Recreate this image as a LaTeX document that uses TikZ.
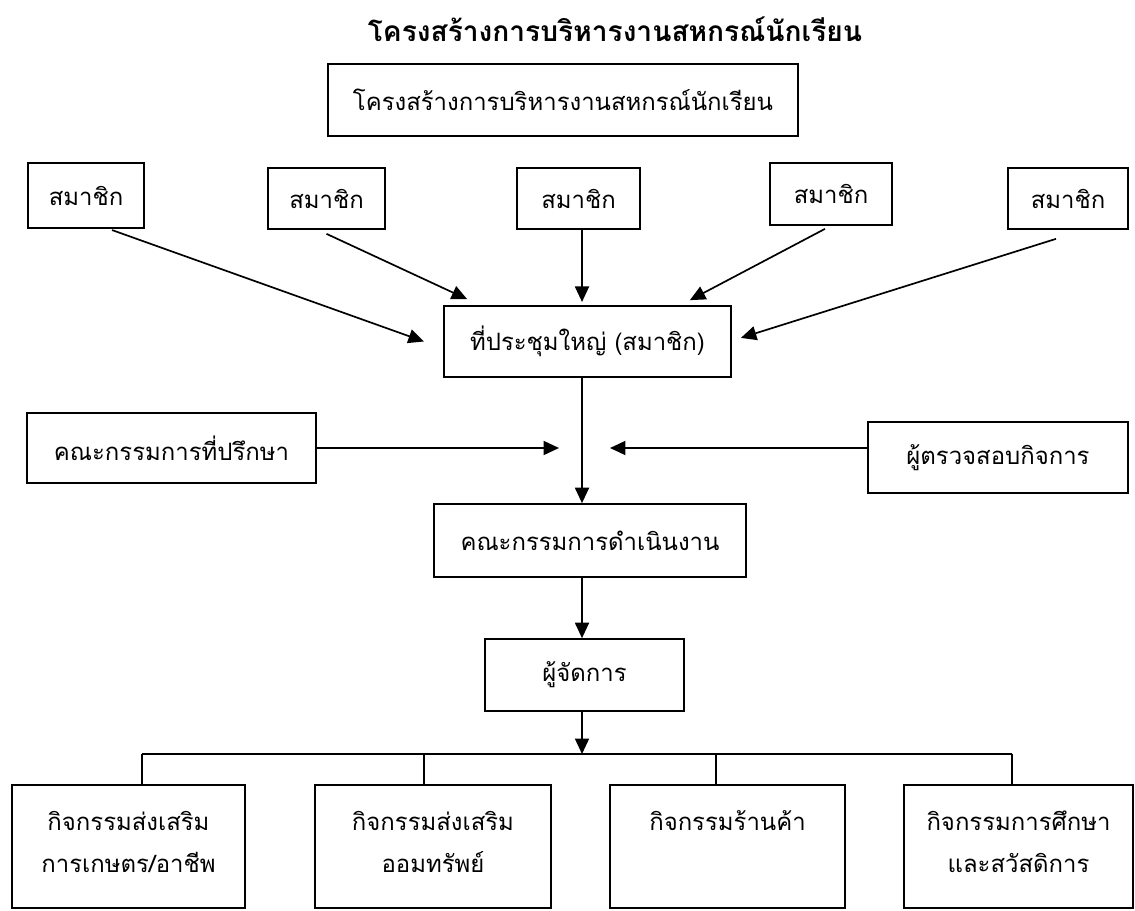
\documentclass[tikz,border=0pt]{standalone}
\usepackage{fontspec}
\newfontfamily\thaifont[Script=Thai]{Loma}
\usetikzlibrary{arrows.meta}

\begin{document}
\begin{tikzpicture}[x=0.025cm,y=-0.025cm,line width=1.2pt,>={Triangle[length=11pt,width=10pt]},
  box/.style={draw,line width=1.2pt,inner sep=2pt,font=\thaifont\fontsize{17pt}{20pt}\selectfont},
  unit/.style={box,align=center,minimum height=3.075cm,text height=60.5pt,text depth=23pt,font=\thaifont\fontsize{17pt}{30pt}\selectfont}]
\useasboundingbox (0,0) rectangle (1135,911);
% title and top box
\node [name=title,font=\thaifont\bfseries\fontsize{20pt}{24pt}\selectfont] at (615,29){โครงสร้างการบริหารงานสหกรณ์นักเรียน};
\node [box,name=top,minimum width=11.75cm,minimum height=1.8cm] at (563,100){โครงสร้างการบริหารงานสหกรณ์นักเรียน};
% members
\node [box,name=m1,minimum width=2.9cm,minimum height=1.625cm] at (86,195.5){สมาชิก};
\node [box,name=m2,minimum width=2.925cm,minimum height=1.525cm] at (326.5,198.5){สมาชิก};
\node [box,name=m3,minimum width=3.075cm,minimum height=1.525cm] at (578.5,198.5){สมาชิก};
\node [box,name=m4,minimum width=3.05cm,minimum height=1.55cm] at (831,194){สมาชิก};
\node [box,name=m5,minimum width=3cm,minimum height=1.525cm] at (1068,198.5){สมาชิก};
% meeting, committees
\node [box,name=asm,minimum width=7.175cm,minimum height=1.775cm] at (587.5,341.5){ที่ประชุมใหญ่ (สมาชิก)};
\node [box,name=adv,minimum width=7.225cm,minimum height=1.75cm] at (171.5,448){คณะกรรมการที่ปรึกษา};
\node [box,name=aud,minimum width=6.5cm,minimum height=1.775cm] at (998,457.5){ผู้ตรวจสอบกิจการ};
\node [box,name=op,minimum width=7.8cm,minimum height=1.825cm] at (590,540.5){คณะกรรมการดำเนินงาน};
\node [box,name=mgr,minimum width=4.975cm,minimum height=1.8cm] at (584.5,675){ผู้จัดการ};
% activities
\node [unit,name=b1,minimum width=5.825cm] at (128.5,846.5){กิจกรรมส่งเสริม\\การเกษตร/อาชีพ};
\node [unit,name=b2,minimum width=5.9cm] at (433,846.5){กิจกรรมส่งเสริม\\ออมทรัพย์};
\node [unit,name=b3,minimum width=5.875cm] at (727.5,846.5){กิจกรรมร้านค้า\\\mbox{}};
\node [unit,name=b4,minimum width=5.725cm] at (1018.5,846.5){กิจกรรมการศึกษา\\และสวัสดิการ};
\coordinate (sp) at (582,0);
\coordinate (advtip) at (559,448);
\coordinate (audtip) at (610,448);
\coordinate (j1) at (142,754);
\coordinate (j2) at (424,754);
\coordinate (j3) at (716,754);
\coordinate (j4) at (1012,754);
\coordinate (jm) at (582,754);
\draw[->] ([xshift=0.65cm,yshift=-0.03cm]m1.south)--([xshift=-0.48cm]asm.west);
\draw[->] ([yshift=-0.1cm]m2.south)--([xshift=0.6cm,yshift=0.15cm]asm.north west);
\draw[->,shorten >=0.08cm] (m3.south -| sp)--(asm.north -| sp);
\draw[->] ([xshift=-0.15cm,yshift=-0.075cm]m4.south)--([xshift=-1.05cm,yshift=0.125cm]asm.north east);
\draw[->] ([xshift=-0.3cm,yshift=-0.225cm]m5.south)--([xshift=0.225cm,yshift=0.09cm]asm.east);
\draw[->] (asm.south -| sp)--(op.north -| sp);
\draw[->] (adv.east)--(advtip);
\draw[->] (aud.west |- audtip)--(audtip);
\draw[->] (op.south -| sp)--(mgr.north -| sp);
\draw[->] (mgr.south -| sp)--(jm);
\draw (j1)--(j4);
\draw (j1)--(j1 |- b1.north);
\draw (j2)--(j2 |- b2.north);
\draw (j3)--(j3 |- b3.north);
\draw (j4)--(j4 |- b4.north);
\end{tikzpicture}
\end{document}
